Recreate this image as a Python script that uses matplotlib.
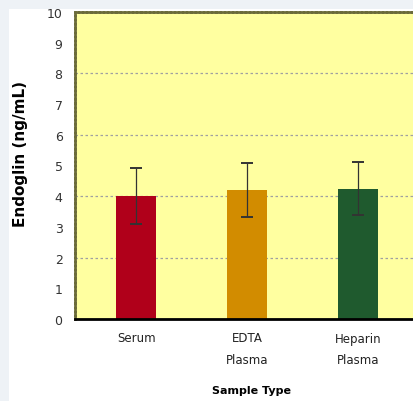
import matplotlib.pyplot as plt
import numpy as np
from matplotlib.patches import Rectangle

# data
samples = ['Serum', 'EDTA\nPlasma', 'Heparin\nPlasma']
means = [4.0, 4.2, 4.25]
errors = [0.92, 0.88, 0.85]
colors = ['#b0001a', '#d28c00', '#1f5a2e']
yticks = list(range(0, 11))
grid_levels = [2, 4, 6, 8]

fig = plt.figure(figsize=(4.13, 4.02), dpi=100, facecolor='#eef2f6')
# white panel behind the chart
fig.patches.append(Rectangle((9 / 413, 0), 1, 1 - 10 / 402, transform=fig.transFigure,
                             facecolor='white', edgecolor='none', zorder=-10))

ax = fig.add_axes([75 / 413, 1 - 320 / 402, (425 - 75) / 413, (320 - 13) / 402])
ax.set_facecolor('#ffffa0')

x = np.arange(len(samples))
ax.bar(x, means, width=0.36, color=colors, zorder=2)
ax.errorbar(x, means, yerr=errors, fmt='none', ecolor='#333333', elinewidth=0.9,
            capsize=4, capthick=1.4, zorder=3)

# dotted horizontal guides
for g in grid_levels:
    ax.axhline(g, color='#a0a0a0', linestyle=(0, (2, 2)), linewidth=0.9, zorder=1)

ax.set_ylim(0, 10)
ax.set_xlim(-0.55, 2.6)
ax.set_yticks(yticks)
ax.set_xticks(x)
ax.tick_params(axis='both', length=0, colors='#333333')
ax.tick_params(axis='y', pad=9, labelsize=9)
ax.set_xticklabels(samples, fontsize=8.5, color='#222222', linespacing=1.9)
ax.tick_params(axis='x', pad=9)

for s in ['left', 'top']:
    ax.spines[s].set_color('#6b6b3a')
    ax.spines[s].set_linewidth(2)
    ax.spines[s].set_linestyle((0, (1, 0.5)))
ax.spines['right'].set_visible(False)
ax.spines['bottom'].set_color('black')
ax.spines['bottom'].set_linewidth(2)

ax.set_ylabel('Endoglin (ng/mL)', fontsize=11, fontweight='bold')
ax.set_xlabel('Sample Type', fontsize=8, fontweight='bold')
ax.xaxis.set_label_coords((252 - 75) / (425 - 75), -(386 - 320) / (320 - 13))
ax.yaxis.set_label_coords(-(75 - 28) / (425 - 75), (320 - 154) / (320 - 13))

fig.savefig('out.png', dpi=100, facecolor=fig.get_facecolor())
